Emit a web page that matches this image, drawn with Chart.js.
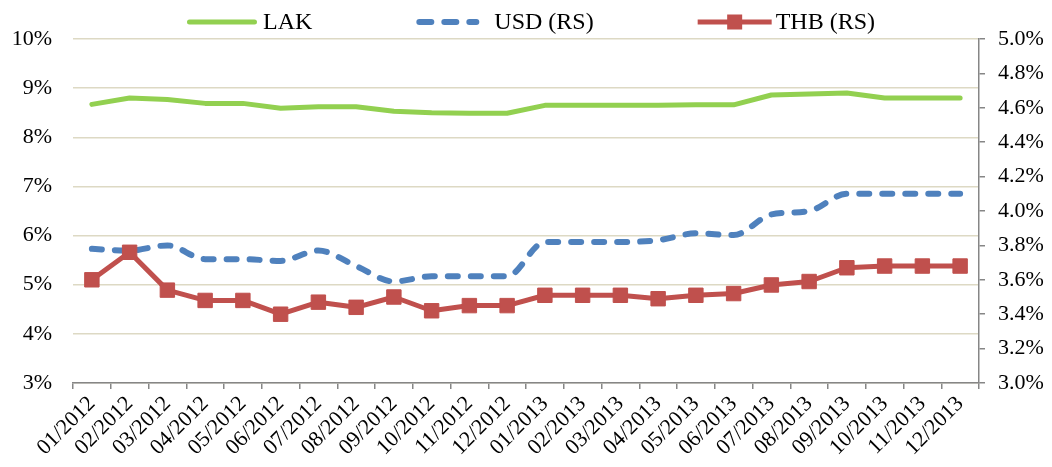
<!DOCTYPE html>
<html>
<head>
<meta charset="utf-8">
<script src="https://cdn.jsdelivr.net/npm/chart.js@4.4.1/dist/chart.umd.min.js"></script>
<style>
  html, body { margin: 0; padding: 0; background: #ffffff; }
  #wrap { width: 1052px; height: 467px; position: relative; }
</style>
</head>
<body>
<div id="wrap"><canvas id="c" width="1052" height="467"></canvas></div>
<script>
const categories = ['01/2012','02/2012','03/2012','04/2012','05/2012','06/2012','07/2012','08/2012','09/2012','10/2012','11/2012','12/2012',
                    '01/2013','02/2013','03/2013','04/2013','05/2013','06/2013','07/2013','08/2013','09/2013','10/2013','11/2013','12/2013'];
const lakValues = [8.67, 8.80, 8.77, 8.69, 8.69, 8.59, 8.62, 8.62, 8.53, 8.50, 8.49, 8.49,
                   8.65, 8.65, 8.65, 8.65, 8.66, 8.66, 8.86, 8.88, 8.90, 8.80, 8.80, 8.80];
const usdValues = [3.78, 3.77, 3.80, 3.72, 3.72, 3.71, 3.77, 3.68, 3.59, 3.62, 3.62, 3.62,
                   3.82, 3.82, 3.82, 3.83, 3.87, 3.86, 3.98, 4.00, 4.10, 4.10, 4.10, 4.10];
const thbValues = [3.60, 3.76, 3.54, 3.48, 3.48, 3.40, 3.47, 3.44, 3.50, 3.42, 3.45, 3.45,
                   3.51, 3.51, 3.51, 3.49, 3.51, 3.52, 3.57, 3.59, 3.67, 3.68, 3.68, 3.68];
const seriesNames = ['LAK', 'USD (RS)', 'THB (RS)'];
const leftTicks = { min: 3, max: 10, step: 1 };
const rightTicks = { min: 3.0, max: 5.0, step: 0.2 };

const FONT = "'Liberation Serif', 'Times New Roman', serif";
const GREEN = '#92D050', BLUE = '#4F81BD', RED = '#C0504D';
const AXIS = '#868686', GRID = '#DDD9C4';

const legendPlugin = {
  id: 'customLegend',
  afterDraw(chart) {
    const ctx = chart.ctx;
    ctx.save();
    ctx.font = '24px ' + FONT;
    const symW = [70, 63, 74], textGap = [6, 15, 4], itemGap = 104;
    const widths = seriesNames.map(n => ctx.measureText(n).width);
    let total = itemGap * (seriesNames.length - 1);
    seriesNames.forEach((n, i) => { total += symW[i] + textGap[i] + widths[i]; });
    let x = (chart.width - total) / 2 + 5;
    const y = 22;
    seriesNames.forEach((name, i) => {
      const w = symW[i];
      ctx.save();
      if (i === 0) {
        ctx.strokeStyle = GREEN; ctx.lineWidth = 5; ctx.lineCap = 'round';
        ctx.beginPath(); ctx.moveTo(x + 2.5, y); ctx.lineTo(x + w - 2.5, y); ctx.stroke();
      } else if (i === 1) {
        ctx.strokeStyle = BLUE; ctx.lineWidth = 6; ctx.lineCap = 'round';
        ctx.setLineDash([12, 13]);
        ctx.beginPath(); ctx.moveTo(x + 3, y); ctx.lineTo(x + w - 3, y); ctx.stroke();
      } else {
        ctx.strokeStyle = RED; ctx.lineWidth = 5; ctx.lineCap = 'butt';
        ctx.beginPath(); ctx.moveTo(x, y); ctx.lineTo(x + w, y); ctx.stroke();
        ctx.fillStyle = RED;
        ctx.fillRect(x + w / 2 - 7.5, y - 7.5, 15, 15);
      }
      ctx.restore();
      const tx = x + w + textGap[i];
      ctx.fillStyle = '#000';
      ctx.textBaseline = 'middle';
      ctx.textAlign = 'left';
      ctx.fillText(name, tx, y + 1);
      x = tx + widths[i] + itemGap;
    });
    ctx.restore();
  }
};

new Chart(document.getElementById('c'), {
  type: 'line',
  data: {
    labels: categories,
    datasets: [
      {
        label: seriesNames[0], data: lakValues, yAxisID: 'y',
        borderColor: GREEN, backgroundColor: GREEN, borderWidth: 5,
        borderCapStyle: 'round', borderJoinStyle: 'round',
        pointRadius: 0, tension: 0, order: 3
      },
      {
        label: seriesNames[1], data: usdValues, yAxisID: 'y1',
        borderColor: BLUE, backgroundColor: BLUE, borderWidth: 6,
        borderDash: [10, 13], borderCapStyle: 'round', borderJoinStyle: 'round',
        pointRadius: 0, cubicInterpolationMode: 'monotone', order: 2
      },
      {
        label: seriesNames[2], data: thbValues, yAxisID: 'y1',
        borderColor: RED, backgroundColor: RED, borderWidth: 5,
        borderJoinStyle: 'round',
        pointStyle: 'rect', pointRadius: 10.2, pointBorderWidth: 1,
        pointBackgroundColor: RED, pointBorderColor: RED, tension: 0, order: 1
      }
    ]
  },
  options: {
    responsive: false,
    animation: false,
    devicePixelRatio: 1,
    layout: { padding: { top: 39, left: 0, right: 0, bottom: 0 } },
    plugins: { legend: { display: false }, tooltip: { enabled: false } },
    scales: {
      x: {
        offset: true,
        afterFit(s) { s.height = 84; },
        grid: { display: true, offset: true, drawOnChartArea: false, drawTicks: true, tickLength: 6, color: AXIS, lineWidth: 1.5 },
        border: { display: true, color: AXIS, width: 1.5 },
        ticks: { autoSkip: false, minRotation: 45, maxRotation: 45, padding: 2, color: '#000', font: { family: FONT, size: 22 } }
      },
      y: {
        position: 'left',
        min: leftTicks.min, max: leftTicks.max,
        afterFit(s) { s.width = 73; },
        grid: { color: GRID, lineWidth: 1.5, drawTicks: false },
        border: { display: false },
        ticks: { stepSize: leftTicks.step, padding: 21, color: '#000', font: { family: FONT, size: 22 },
                 callback: v => v + '%' }
      },
      y1: {
        position: 'right',
        min: rightTicks.min, max: rightTicks.max,
        afterFit(s) { s.width = 73; },
        grid: { drawOnChartArea: false, drawTicks: true, tickLength: 6, color: AXIS, lineWidth: 1.5 },
        border: { display: true, color: AXIS, width: 1.5 },
        ticks: { stepSize: rightTicks.step, padding: 13, color: '#000', font: { family: FONT, size: 22 },
                 callback: v => Number(v).toFixed(1) + '%' }
      }
    }
  },
  plugins: [legendPlugin]
});
</script>
</body>
</html>
